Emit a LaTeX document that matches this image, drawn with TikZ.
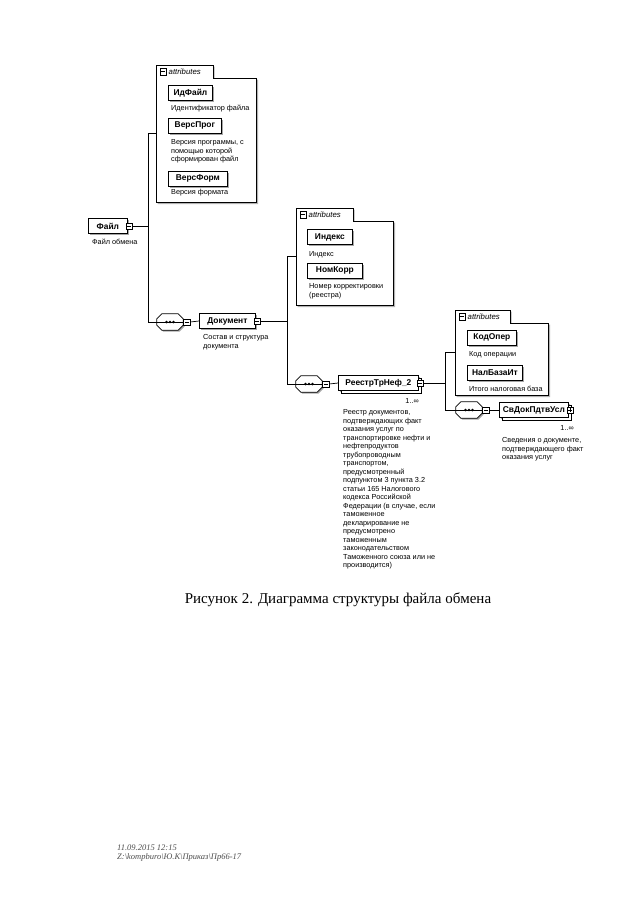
\documentclass[tikz,border=0pt]{standalone}
\usepackage{fontspec}
\setmainfont{Liberation Serif}
\setsansfont{Liberation Sans}
\usetikzlibrary{shadows, positioning}
\tikzset{
  elem/.style={draw, fill=white, line width=0.8pt, font=\sffamily\bfseries\fontsize{8.4}{9}\selectfont, minimum height=15pt, inner xsep=3pt, inner ysep=0pt, anchor=west,
    drop shadow={shadow xshift=1.6pt, shadow yshift=-1.6pt, fill=black!35, opacity=1}},
  elemmn/.style={elem, copy shadow={shadow xshift=2.5pt, shadow yshift=-2.5pt, draw, fill=white, line width=0.6pt}},
  knopka/.style={draw, fill=white, line width=0.5pt, minimum size=6.5pt, inner sep=0pt,
    path picture={\draw[line width=0.5pt] ([xshift=1.3pt]path picture bounding box.west) -- ([xshift=-1.3pt]path picture bounding box.east);}},
  knplus/.style={knopka, path picture={\draw[line width=0.5pt] ([xshift=1.3pt]path picture bounding box.west) -- ([xshift=-1.3pt]path picture bounding box.east); \draw[line width=0.5pt] ([yshift=-1.3pt]path picture bounding box.north) -- ([yshift=1.3pt]path picture bounding box.south);}},
  posl/.style={minimum width=26pt, minimum height=16pt, inner sep=0pt},
  poslramka/.style={draw, fill=white, line width=0.7pt, drop shadow={shadow xshift=1.4pt, shadow yshift=-1.4pt, fill=black!35, opacity=1}},
  opis/.style={font=\sffamily\fontsize{7.3}{8.5}\selectfont, align=left, anchor=north west, inner sep=0pt},
  kratn/.style={font=\sffamily\fontsize{7.3}{8}\selectfont, anchor=east, inner sep=0pt},
  atrgr/.style={draw=none, anchor=north west, inner sep=0pt},
  atrlinia/.style={draw, fill=white, line width=0.7pt, drop shadow={shadow xshift=1.6pt, shadow yshift=-1.6pt, fill=black!30, opacity=1}},
  atrtekst/.style={font=\sffamily\itshape\fontsize{7.8}{8}\selectfont, anchor=west, inner sep=0pt},
  svyaz/.style={line width=0.7pt},
  kolont/.style={font=\itshape\fontsize{8.5}{9}\selectfont, text=black!70, anchor=west, inner sep=0pt},
}
% последовательность: имя, точка
\newcommand\posled[2]{%
  \node[posl] (#1) at (#2) {};
  \path[poslramka] ([xshift=5pt]#1.north west) -- ([xshift=-5pt]#1.north east) -- ([yshift=-5pt]#1.north east)
    -- ([yshift=5pt]#1.south east) -- ([xshift=-5pt]#1.south east) -- ([xshift=5pt]#1.south west)
    -- ([yshift=5pt]#1.south west) -- ([yshift=-5pt]#1.north west) -- cycle;
  \draw[line width=0.7pt] (#1.west) -- (#1.east);
  \foreach \dx in {-3.4,0,3.4} \fill ([xshift=\dx pt]#1.center) circle (1.4pt);
  \node[knopka, anchor=west] (#1kn) at (#1.east) {};
}
\begin{document}
\begin{tikzpicture}[x=1pt, y=-1pt]
  \useasboundingbox[fill=white] (0,0) rectangle (640,905);

  % группы атрибутов
  \node[atrgr, minimum width=100pt, minimum height=137pt] (atr1) at (156,65) {};
  \path[atrlinia] (atr1.north west) -- ++(57,0) -- ++(0,13) -| (atr1.south east) -| cycle;
  \node[knopka] (atr1kn) at ([xshift=7pt, yshift=-6.5pt]atr1.north west) {};
  \node[atrtekst, right=2pt of atr1kn] (atr1t) {attributes};

  \node[atrgr, minimum width=97pt, minimum height=97pt] (atr2) at (296,208) {};
  \path[atrlinia] (atr2.north west) -- ++(57,0) -- ++(0,13) -| (atr2.south east) -| cycle;
  \node[knopka] (atr2kn) at ([xshift=7pt, yshift=-6.5pt]atr2.north west) {};
  \node[atrtekst, right=2pt of atr2kn] (atr2t) {attributes};

  \node[atrgr, minimum width=93pt, minimum height=85pt] (atr3) at (455,310) {};
  \path[atrlinia] (atr3.north west) -- ++(55,0) -- ++(0,13) -| (atr3.south east) -| cycle;
  \node[knopka] (atr3kn) at ([xshift=7pt, yshift=-6.5pt]atr3.north west) {};
  \node[atrtekst, right=2pt of atr3kn] (atr3t) {attributes};

  % Файл
  \node[elem, minimum width=39pt] (fayl) at (88,226) {Файл\hspace{5pt}};
  \node[knopka] (faylkn) at ([xshift=1.5pt]fayl.east) {};
  \node[opis] (fayld) at (92,238.5) {Файл обмена};

  \node[elem, minimum width=44pt] (idf) at (168,93) {ИдФайл};
  \node[opis] (idfd) at (171,104.5) {Идентификатор файла};
  \node[elem, minimum width=53pt] (vprog) at (168,125.5) {ВерсПрог};
  \node[opis] (vprogd) at (171,139.5) {Версия программы, с\\помощью которой\\сформирован файл};
  \node[elem, minimum width=59pt] (vform) at (168,178.5) {ВерсФорм};
  \node[opis] (vformd) at (171,189.5) {Версия формата};

  % Документ
  \posled{seq1}{170,322}
  \node[elem, minimum width=56pt] (dok) at (199,321) {Документ\hspace{5pt}};
  \node[knopka] (dokkn) at ([xshift=1.5pt]dok.east) {};
  \node[opis] (dokd) at (203,334.5) {Состав и структура\\документа};

  \node[elem, minimum width=45pt] (indeks) at (307,237) {Индекс};
  \node[opis] (indeksd) at (309,251.5) {Индекс};
  \node[elem, minimum width=55pt] (nomkorr) at (307,270.5) {НомКорр};
  \node[opis] (nomkorrd) at (309,283.5) {Номер корректировки\\(реестра)};

  % РеестрТрНеф_2
  \posled{seq2}{309,384}
  \node[elemmn, minimum width=80pt] (reestr) at (338,383) {РеестрТрНеф\_2\hspace{5pt}};
  \node[knopka] (reestrkn) at ([xshift=1.5pt]reestr.east) {};
  \node[kratn] (reestrk) at (419,401) {1..∞};
  \node[opis] (reestrd) at (343,409.5) {Реестр документов,\\подтверждающих факт\\оказания услуг по\\транспортировке нефти и\\нефтепродуктов\\трубопроводным\\транспортом,\\предусмотренный\\подпунктом 3 пункта 3.2\\статьи 165 Налогового\\кодекса Российской\\Федерации (в случае, если\\таможенное\\декларирование не\\предусмотрено\\таможенным\\законодательством\\Таможенного союза или не\\производится)};

  \node[elem, minimum width=49pt] (kodoper) at (467,337.5) {КодОпер};
  \node[opis] (kodoperd) at (469,351.5) {Код операции};
  \node[elem, minimum width=55pt] (nalbaza) at (467,372.5) {НалБазаИт};
  \node[opis] (nalbazad) at (469,385.5) {Итого налоговая база};

  % СвДокПдтвУсл
  \posled{seq3}{469,410}
  \node[elemmn, minimum width=69pt] (svdok) at (499,410) {СвДокПдтвУсл\hspace{5pt}};
  \node[knplus] (svdokkn) at ([xshift=1.5pt]svdok.east) {};
  \node[kratn] (svdokk) at (574,428) {1..∞};
  \node[opis] (svdokd) at (502,437.5) {Сведения о документе,\\подтверждающего факт\\оказания услуг};

  % шины
  \coordinate (shina1) at (148,322);
  \coordinate (shina2) at (287,384);
  \coordinate (shina3) at (445,410);
  \draw[svyaz] (faylkn.east) -- (faylkn.east -| shina1);
  \draw[svyaz] (atr1.west) -| (shina1) -- (seq1.west);
  \draw[svyaz] (seq1kn.east) -- (dok.west);
  \draw[svyaz] (dokkn.east) -- (dokkn.east -| shina2);
  \draw[svyaz] (atr2.west) -| (shina2) -- (seq2.west);
  \draw[svyaz] (seq2kn.east) -- (reestr.west);
  \draw[svyaz] (reestrkn.east) -- (reestrkn.east -| shina3);
  \draw[svyaz] (atr3.west) -| (shina3) -- (seq3.west);
  \draw[svyaz] (seq3kn.east) -- (svdok.west);

  % подпись и колонтитул
  \node[font=\fontsize{15}{17}\selectfont, inner sep=0pt] (podpis) at (338,600) {Рисунок 2. Диаграмма структуры файла обмена};
  \node[kolont] (data) at (117,848) {11.09.2015 12:15};
  \node[kolont] (put) at (117,857) {Z:\textbackslash kompburo\textbackslash Ю.К\textbackslash Приказ\textbackslash Пр66-17};
\end{tikzpicture}
\end{document}
